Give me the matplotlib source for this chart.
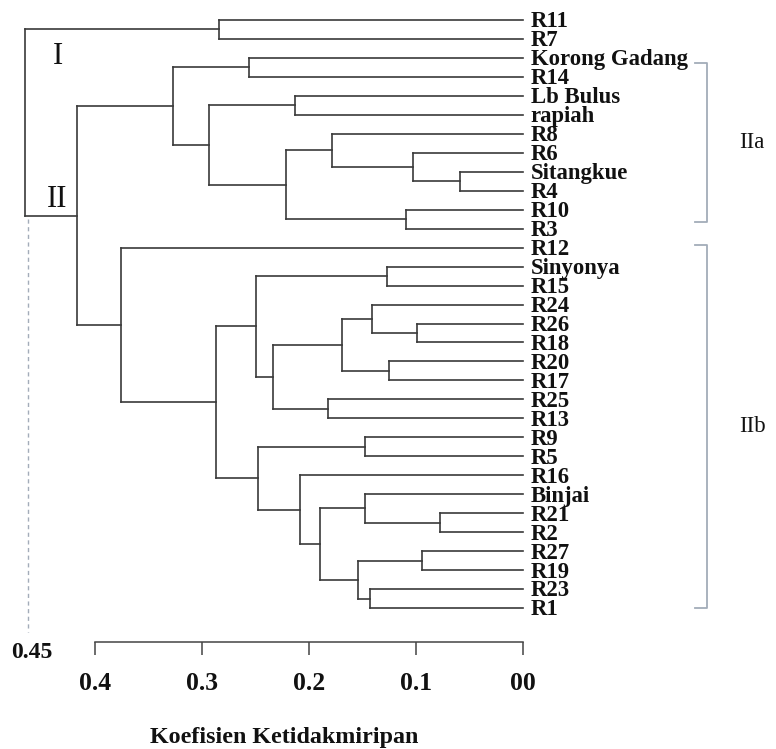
import matplotlib
matplotlib.use("Agg")
import matplotlib.pyplot as plt

plt.rcParams['font.family'] = ['Liberation Serif', 'DejaVu Serif']

# leaves, top to bottom
leaves = ["R11", "R7", "Korong Gadang", "R14", "Lb Bulus", "rapiah", "R8", "R6",
          "Sitangkue", "R4", "R10", "R3", "R12", "Sinyonya", "R15", "R24", "R26",
          "R18", "R20", "R17", "R25", "R13", "R9", "R5", "R16", "Binjai", "R21",
          "R2", "R27", "R19", "R23", "R1"]

# merges: (left, right, dissimilarity); "#k" points to merge k
merges = [
    ("R11", "R7", 0.284),
    ("Korong Gadang", "R14", 0.256),
    ("Lb Bulus", "rapiah", 0.213),
    ("Sitangkue", "R4", 0.059),
    ("R6", "#3", 0.103),
    ("R8", "#4", 0.178),
    ("R10", "R3", 0.109),
    ("#5", "#6", 0.222),
    ("#2", "#7", 0.294),
    ("#1", "#8", 0.327),
    ("Sinyonya", "R15", 0.127),
    ("R26", "R18", 0.099),
    ("R24", "#11", 0.141),
    ("R20", "R17", 0.125),
    ("#12", "#13", 0.169),
    ("R25", "R13", 0.182),
    ("#14", "#15", 0.234),
    ("#10", "#16", 0.250),
    ("R9", "R5", 0.148),
    ("R21", "R2", 0.077),
    ("Binjai", "#19", 0.148),
    ("R27", "R19", 0.094),
    ("R23", "R1", 0.143),
    ("#21", "#22", 0.154),
    ("#20", "#23", 0.190),
    ("R16", "#24", 0.208),
    ("#18", "#25", 0.248),
    ("#17", "#26", 0.287),
    ("R12", "#27", 0.376),
    ("#9", "#28", 0.417),
    ("#0", "#29", 0.466),
]

tick_vals = [0.4, 0.3, 0.2, 0.1, 0.0]
tick_labels = ["0.4", "0.3", "0.2", "0.1", "00"]
cut_value = 0.4635
cut_label = "0.45"

# group brackets (leaf units)
groups = ["IIa", "IIb"]
group_top = [2.28, 11.86]
group_bottom = [10.63, 31.0]

line_c = "#3a3a3a"
brk_c = "#a3acb9"

fig = plt.figure(figsize=(7.76, 7.49), dpi=100)
ax = fig.add_axes([0, 0, 1, 1])
ax.set_xlim(0.48946, -0.23747)
ax.set_ylim(38.43, -1.054)

pos = {name: (i, 0.0) for i, name in enumerate(leaves)}
for k, (a, b, h) in enumerate(merges):
    ya, ha = pos[a]
    yb, hb = pos[b]
    ax.plot([h, h], [ya, yb], color=line_c, lw=1.2, solid_capstyle='projecting')
    ax.plot([ha, h], [ya, ya], color=line_c, lw=1.2)
    ax.plot([hb, h], [yb, yb], color=line_c, lw=1.2)
    pos["#%d" % k] = ((ya + yb) / 2, h)

for i, name in enumerate(leaves):
    ax.text(-0.0077, i + 0.39, name, ha='left', va='baseline',
            fontsize=16.4, fontweight='bold', color='#111')

# cut line
ax.plot([cut_value, cut_value], [10.49, 32.26], color=brk_c, lw=1.0,
        linestyle=(0, (3, 2.5)))
ax.text(0.4595, 33.35, cut_label, ha='center', va='center', fontsize=17,
        fontweight='bold', color='#111')

# cluster labels
ax.text(0.4353, 1.95, "I", ha='center', va='center', fontsize=22, color='#111')
ax.text(0.4361, 9.45, "II", ha='center', va='center', fontsize=22, color='#111')

for g, t, b in zip(groups, group_top, group_bottom):
    ax.plot([-0.1616, -0.1726, -0.1726, -0.1616], [t, t, b, b], color=brk_c, lw=1.3)
    ax.text(-0.2155 if g == "IIb" else -0.2145, (t + b) / 2, g, ha='center', va='center',
            fontsize=16.5, color='#111')

# scale axis
for s in ['top', 'left', 'right']:
    ax.spines[s].set_visible(False)
ax.spines['bottom'].set_position(('data', 32.79))
ax.spines['bottom'].set_bounds(0.0, 0.4)
ax.spines['bottom'].set_color('#444')
ax.spines['bottom'].set_linewidth(1.1)
ax.set_yticks([])
ax.set_xticks(tick_vals)
ax.set_xticklabels(tick_labels, fontweight='bold')
ax.tick_params(axis='x', direction='out', length=9.5, width=1.1, color='#444',
               pad=12, labelsize=18.5, labelcolor='#111')
ax.text(0.2232, 37.8, "Koefisien Ketidakmiripan", ha='center', va='center',
        fontsize=17.3, fontweight='bold', color='#111')

fig.savefig("out.png", dpi=100)
